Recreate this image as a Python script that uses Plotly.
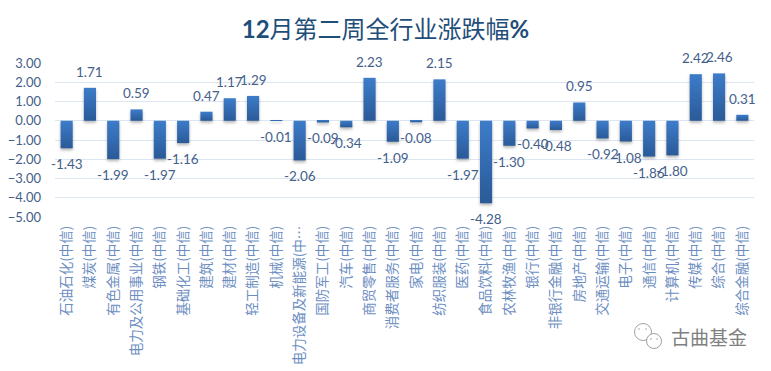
import plotly.graph_objects as go

categories = ["石油石化(中信)", "煤炭(中信)", "有色金属(中信)", "电力及公用事业(中信)", "钢铁(中信)",
              "基础化工(中信)", "建筑(中信)", "建材(中信)", "轻工制造(中信)", "机械(中信)",
              "电力设备及新能源(中…", "国防军工(中信)", "汽车(中信)", "商贸零售(中信)", "消费者服务(中信)",
              "家电(中信)", "纺织服装(中信)", "医药(中信)", "食品饮料(中信)", "农林牧渔(中信)",
              "银行(中信)", "非银行金融(中信)", "房地产(中信)", "交通运输(中信)", "电子(中信)",
              "通信(中信)", "计算机(中信)", "传媒(中信)", "综合(中信)", "综合金融(中信)"]
values = [-1.43, 1.71, -1.99, 0.59, -1.97, -1.16, 0.47, 1.17, 1.29, -0.01,
          -2.06, -0.09, -0.34, 2.23, -1.09, -0.08, 2.15, -1.97, -4.28, -1.30,
          -0.40, -0.48, 0.95, -0.92, -1.08, -1.86, -1.80, 2.42, 2.46, 0.31]
y_ticks = [3, 2, 1, 0, -1, -2, -3, -4, -5]
title = "<b>12</b>月第二周全行业涨跌幅<b>%</b>"
watermark = "古曲基金"

FONT = "Lato, Noto Sans CJK SC"
TEXT = "#44608A"
fig = go.Figure()
fig.add_bar(x=categories, y=values, width=0.52, marker=dict(color="#2F69AE", line_width=0),
            showlegend=False, hoverinfo="x+y")
for c, v in zip(categories, values):
    fig.add_annotation(x=c, y=v, text=f"{v:.2f}", showarrow=False, yshift=16 if v >= 0 else -16,
                       font=dict(family=FONT, size=13.5, color=TEXT), xanchor="center", yanchor="middle")
fig.add_annotation(xref="paper", yref="paper", x=0.99, y=-0.779, text=watermark, showarrow=False,
                   font=dict(family="Noto Sans CJK SC", size=19, color="#808080"), xanchor="right",
                   yanchor="middle", xshift=2)

# small chat-bubble logo beside the watermark, placed in paper units
def px(x): return (x - 55) / 699
def py(y): return (217 - y) / 154
def circle(x, y, r, fill="white", w=0.8):
    fig.add_shape(type="circle", xref="paper", yref="paper", x0=px(x - r), x1=px(x + r),
                  y0=py(y + r), y1=py(y - r), fillcolor=fill, line=dict(color="#8A8A8A", width=w))
circle(643, 332, 8.5)
circle(654, 341, 7.5)
for dx, dy in [(639, 329), (646, 329)]:
    circle(dx, dy, 0.7, "#8A8A8A", 0)
for dx, dy in [(651, 339), (657, 339)]:
    circle(dx, dy, 0.7, "#8A8A8A", 0)

fig.update_layout(
    width=755, height=360, paper_bgcolor="white", plot_bgcolor="white",
    margin=dict(l=47, r=9, t=55, b=151),
    title=dict(text=title, x=0.5, xanchor="center", y=0.939, yanchor="middle",
               font=dict(family=FONT, size=24, color="#1F4E79")),
    xaxis=dict(type="category", range=[-0.5, 29.5], tickangle=-90, ticks="", showline=False, showgrid=False,
               zeroline=False, tickfont=dict(family="Noto Sans CJK SC", size=13.5, color="#6C8EBF"),
               automargin=False, ticklabelstandoff=5),
    yaxis=dict(range=[-5, 3], tickvals=y_ticks, tickformat=".2f", ticks="", showline=False,
               gridcolor="#DCE6F1", gridwidth=1, zeroline=True, zerolinecolor="#DCE6F1", zerolinewidth=1,
               tickfont=dict(family=FONT, size=13, color=TEXT), automargin=False, ticklabelstandoff=13),
)

# vertical gradient and soft shadow on the bars, as in the reference
post = """
var gd = document.getElementById('{plot_id}');
var svg = gd.querySelector('.main-svg');
var NS = 'http://www.w3.org/2000/svg';
var defs = svg.querySelector('defs') || svg.insertBefore(document.createElementNS(NS, 'defs'), svg.firstChild);
var g = document.createElementNS(NS, 'linearGradient');
g.setAttribute('id', 'barGrad'); g.setAttribute('x1', '0'); g.setAttribute('y1', '0');
g.setAttribute('x2', '0'); g.setAttribute('y2', '1');
[['0', '#3D7CCA'], ['1', '#2A5A98']].forEach(function (s) {
  var st = document.createElementNS(NS, 'stop');
  st.setAttribute('offset', s[0]); st.setAttribute('stop-color', s[1]); g.appendChild(st);
});
defs.appendChild(g);
gd.querySelectorAll('.barlayer .point path').forEach(function (p) {
  p.style.fill = 'url(#barGrad)';
  p.style.filter = 'drop-shadow(0px 2px 1.5px rgba(90,90,90,0.45))';
});
"""
fig.write_html("out.html", post_script=post)
